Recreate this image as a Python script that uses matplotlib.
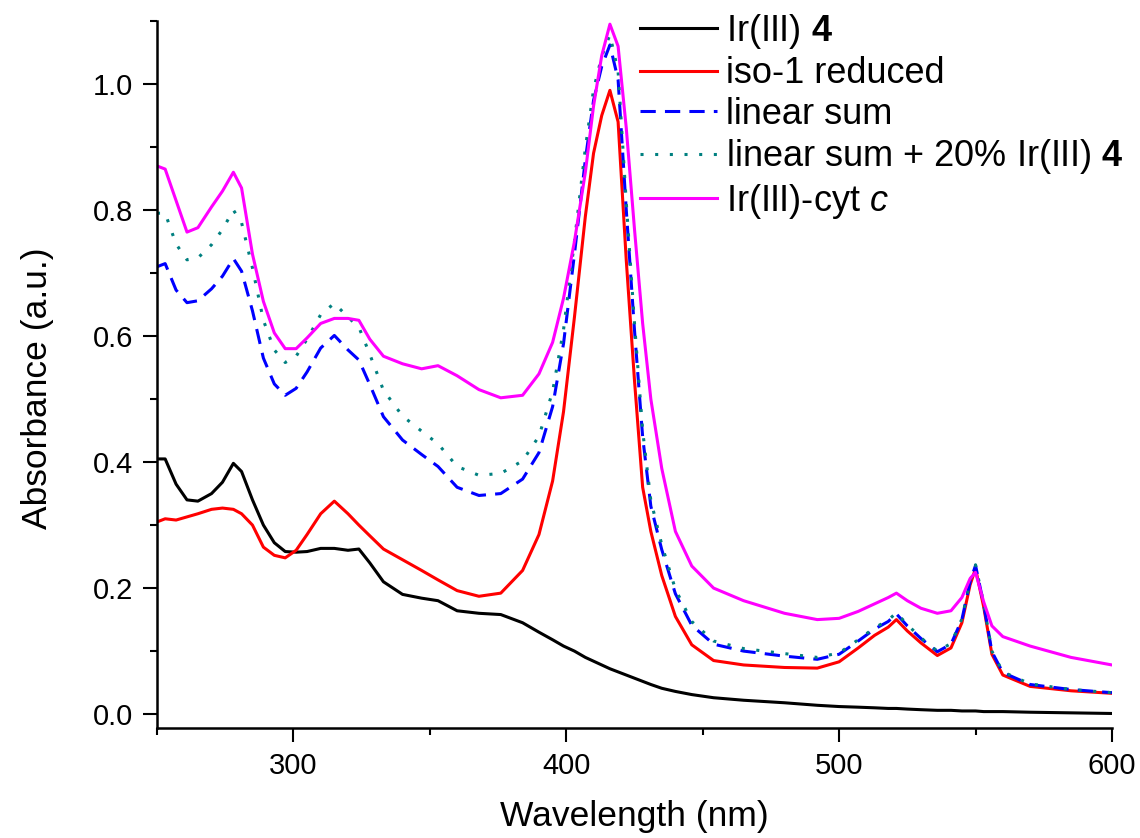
import numpy as np
import matplotlib
matplotlib.use('Agg')
import matplotlib.pyplot as plt
from matplotlib.ticker import MultipleLocator

plt.rcParams['font.family'] = ['Liberation Sans', 'DejaVu Sans']
plt.rcParams['mathtext.fontset'] = 'custom'
plt.rcParams['mathtext.rm'] = 'Liberation Sans'
plt.rcParams['mathtext.bf'] = 'Liberation Sans:bold'
plt.rcParams['mathtext.it'] = 'Liberation Sans:italic'

# длины волн (нм)
wl = [250, 253, 257, 261, 265, 270, 274, 278, 281, 285,
      289, 293, 297, 301, 305, 310, 315, 320, 324, 328,
      333, 340, 347, 353, 360, 368, 376, 384, 390, 395,
      399, 403, 407, 410, 413, 416, 419, 422, 425, 428,
      431, 435, 440, 446, 454, 465, 480, 492, 500, 507,
      513, 518, 521, 525, 530, 536, 541, 545, 548, 550,
      553, 556, 560, 570, 585, 600]

ir4 = [0.405, 0.405, 0.365, 0.34, 0.338, 0.35, 0.368, 0.398, 0.385, 0.34,
       0.30, 0.272, 0.258, 0.257, 0.258, 0.263, 0.263, 0.26, 0.262, 0.24,
       0.21, 0.19, 0.184, 0.18, 0.164, 0.16, 0.158, 0.145, 0.13, 0.118,
       0.108, 0.10, 0.09, 0.084, 0.078, 0.072, 0.067, 0.062, 0.057, 0.052,
       0.047, 0.041, 0.036, 0.031, 0.026, 0.022, 0.018, 0.014, 0.012, 0.011,
       0.010, 0.009, 0.009, 0.008, 0.007, 0.006, 0.006, 0.005, 0.005, 0.005,
       0.004, 0.004, 0.004, 0.003, 0.002, 0.001]

iso1 = [0.305, 0.31, 0.308, 0.313, 0.318, 0.325, 0.327, 0.325, 0.318, 0.30,
        0.265, 0.252, 0.248, 0.26, 0.285, 0.318, 0.338, 0.318, 0.30, 0.283,
        0.262, 0.245, 0.228, 0.213, 0.196, 0.187, 0.192, 0.228, 0.285, 0.37,
        0.48, 0.63, 0.79, 0.89, 0.95, 0.99, 0.94, 0.72, 0.53, 0.36,
        0.29, 0.22, 0.155, 0.11, 0.085, 0.078, 0.074, 0.073, 0.083, 0.105,
        0.125, 0.138, 0.15, 0.132, 0.113, 0.093, 0.105, 0.145, 0.205, 0.231,
        0.17, 0.095, 0.062, 0.044, 0.037, 0.033]

lin_sum = [0.71, 0.715, 0.673, 0.653, 0.656, 0.675, 0.695, 0.723, 0.703, 0.64,
           0.565, 0.524, 0.506, 0.517, 0.543, 0.581, 0.601, 0.578, 0.562, 0.523,
           0.472, 0.435, 0.412, 0.393, 0.36, 0.347, 0.35, 0.373, 0.415, 0.488,
           0.588, 0.73, 0.88, 0.974, 1.028, 1.062, 1.007, 0.80, 0.61, 0.44,
           0.33, 0.261, 0.191, 0.141, 0.111, 0.10, 0.092, 0.087, 0.095, 0.116,
           0.135, 0.147, 0.159, 0.14, 0.12, 0.099, 0.111, 0.15, 0.21, 0.236,
           0.174, 0.099, 0.066, 0.047, 0.039, 0.034]

lin_sum20 = [0.795, 0.795, 0.746, 0.721, 0.724, 0.745, 0.769, 0.80, 0.78, 0.708,
             0.625, 0.578, 0.558, 0.568, 0.595, 0.634, 0.652, 0.63, 0.614, 0.571,
             0.514, 0.473, 0.449, 0.429, 0.393, 0.379, 0.382, 0.402, 0.441, 0.512,
             0.61, 0.75, 0.898, 0.991, 1.044, 1.078, 1.02, 0.812, 0.621, 0.45,
             0.339, 0.269, 0.198, 0.147, 0.116, 0.104, 0.096, 0.09, 0.097, 0.118,
             0.137, 0.149, 0.161, 0.142, 0.121, 0.10, 0.112, 0.151, 0.211, 0.237,
             0.175, 0.10, 0.067, 0.048, 0.039, 0.034]

cytc = [0.87, 0.865, 0.815, 0.765, 0.772, 0.805, 0.83, 0.86, 0.835, 0.73,
        0.655, 0.605, 0.58, 0.58, 0.597, 0.62, 0.628, 0.628, 0.625, 0.595,
        0.568, 0.556, 0.548, 0.553, 0.537, 0.515, 0.502, 0.506, 0.54, 0.59,
        0.66, 0.75, 0.86, 0.965, 1.045, 1.095, 1.06, 0.93, 0.77, 0.62,
        0.50, 0.39, 0.29, 0.235, 0.20, 0.18, 0.16, 0.15, 0.152, 0.163,
        0.175, 0.185, 0.192, 0.18, 0.168, 0.16, 0.164, 0.185, 0.215, 0.225,
        0.178, 0.14, 0.123, 0.108, 0.09, 0.078]

labels = ['Ir(III) $\\mathbf{4}$', 'iso-1 reduced', 'linear sum',
          'linear sum + 20% Ir(III) $\\mathbf{4}$', 'Ir(III)-cyt $\\mathit{c}$']

fig = plt.figure(figsize=(11.4, 8.38), dpi=100)
ax = fig.add_axes([0.1377, 0.1313, 0.8377, 0.8437])

lw = 2.2
ax.plot(wl, ir4, color='black', lw=lw, label=labels[0])
ax.plot(wl, iso1, color='#ff0000', lw=lw, label=labels[1])
ax.plot(wl, lin_sum, color='#0000ff', lw=lw, dashes=(5, 3), label=labels[2])
ax.plot(wl, lin_sum20, color='#008080', lw=lw, dashes=(1, 3.8), label=labels[3])
ax.plot(wl, cytc, color='#ff00ff', lw=lw, label=labels[4])

ax.set_xlim(250, 600)
ax.set_ylim(-0.022, 1.1001)
ax.xaxis.set_major_locator(MultipleLocator(100))
ax.xaxis.set_minor_locator(MultipleLocator(50))
ax.yaxis.set_major_locator(MultipleLocator(0.2))
ax.yaxis.set_minor_locator(MultipleLocator(0.1))
ax.yaxis.set_major_formatter(matplotlib.ticker.FormatStrFormatter('%.1f'))

for s in ['top', 'right']:
    ax.spines[s].set_visible(False)
for s in ['left', 'bottom']:
    ax.spines[s].set_linewidth(1.8)

ax.tick_params(which='major', length=10, width=1.5, labelsize=21, pad=7)
ax.tick_params(which='minor', length=5, width=1.5)

ax.set_xlabel('Wavelength (nm)', fontsize=25.5, labelpad=15)
ax.set_ylabel('Absorbance (a.u.)', fontsize=25.5, labelpad=28)
ax.yaxis.label.set_y(0.48)

ax.legend(loc='upper left', bbox_to_anchor=(0.5614, 0.9857), bbox_transform=fig.transFigure,
          frameon=False, fontsize=26, handlelength=2.14, handletextpad=0.25,
          labelspacing=0.15, borderpad=0, borderaxespad=0)

plt.savefig('out.png', dpi=100)
